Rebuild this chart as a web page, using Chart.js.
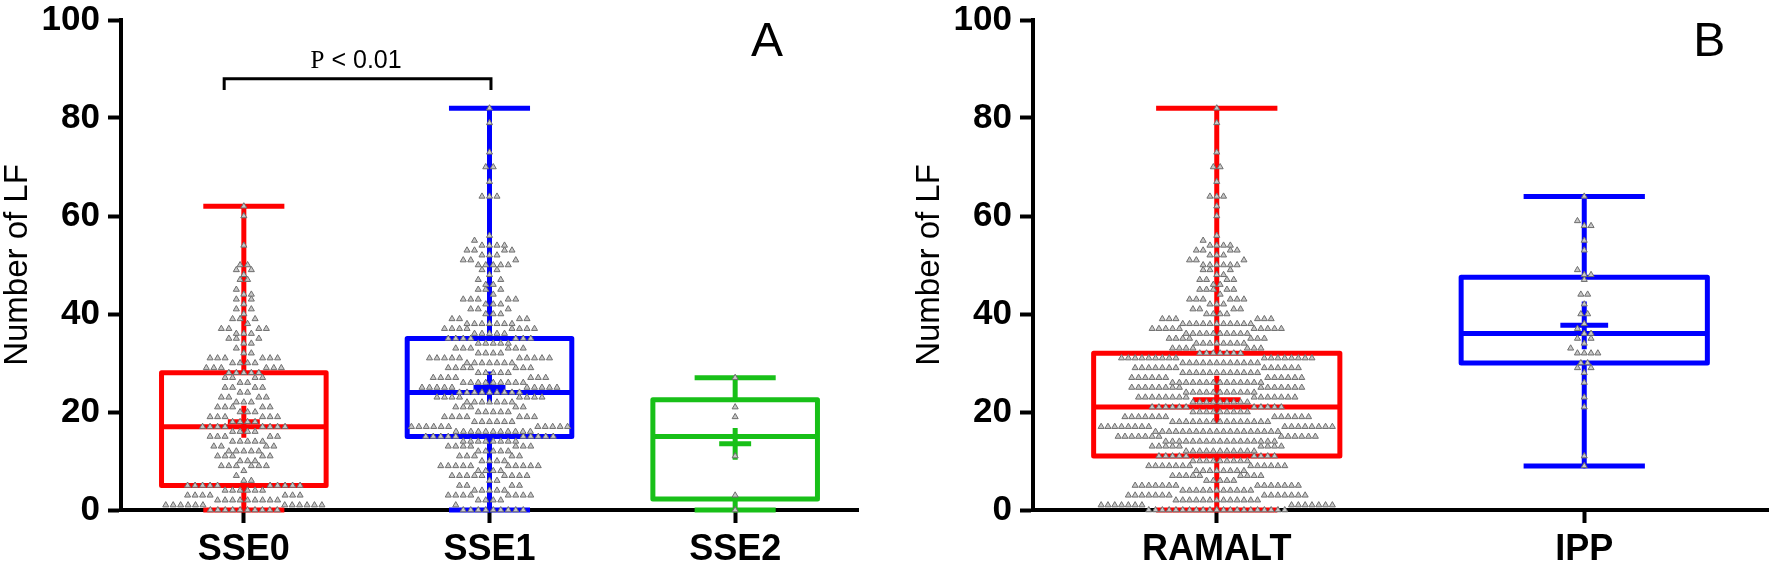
<!DOCTYPE html>
<html><head><meta charset="utf-8">
<script src="https://cdn.jsdelivr.net/npm/chart.js@4.4.1/dist/chart.umd.min.js"></script>
<style>
html,body{margin:0;padding:0;background:#fff;}
#wrap{position:relative;width:1776px;height:572px;overflow:hidden;background:#fff;}
canvas{position:absolute;top:0;}
#cA{left:0;width:880px;height:572px;}
#cB{left:912px;width:864px;height:572px;}
</style></head><body>
<div id="wrap"><canvas id="cA" width="880" height="572"></canvas><canvas id="cB" width="864" height="572"></canvas></div>
<script>
// ---------- Panel A data ----------
const categoriesA = ['SSE0', 'SSE1', 'SSE2'];
const minA  = [0, 0, 0];
const q1A   = [5, 15, 2.25];
const medA  = [17, 24, 15];
const q3A   = [28, 35, 22.5];
const maxA  = [62, 82, 27];
const meanA = [18, 25, 13.5];
// counts of patients per value (index = number of LF)
const countsSSE0 = [10,12,9,7,6,10,2,1,1,6, 3,5,5,4,5,5,4,8,4,6, 3,5,3,4,2,4,2,4,5,6,
  4,6,2,1,2,3,3,4,1,3, 1,2,1,2,2,1,0,2,1,2, 2,0,0,0,1,0,0,0,0,0, 1,0,1];
const countsSSE1 = [9,1,4,8,5,4,2,9,4,10, 4,5,5,7,8,10,11,11,6,7, 5,5,7,8,9,10,9,7,5,7,
  7,10,4,6,5,7,5,8,7,4, 3,3,3,5,1,3,2,2,1,2, 5,3,3,4,4,1,1,0,0,0, 0,0,0,0,3,0,0,1,0,0,
  2,0,0,1,0,0,0,0,0,1, 0,0,1];
const countsSSE2 = [1,0,0,1,0,0,0,0,0,0, 0,1,0,0,0,0,0,0,0,1, 0,1,0,0,0,0,0,1];

// ---------- Panel B data ----------
const categoriesB = ['RAMALT', 'IPP'];
const minB  = [0, 9];
const q1B   = [11, 30];
const medB  = [21, 36];
const q3B   = [32, 47.5];
const maxB  = [82, 64];
const meanB = [22.5, 37.7];
const countsRAMALT = [21,14,13,14,11,14,5,9,8,13, 9,9,11,9,17,13,19,16,15,13, 9,11,9,15,11,15,14,12,12,13,
  12,17,7,7,8,7,10,10,11,6, 4,4,3,6,1,5,2,4,2,3, 6,3,3,4,4,1,1,0,0,0, 1,0,1,0,3,0,0,1,0,0,
  2,0,0,1,0,0,0,0,0,1, 0,0,1];
const countsIPP = [0,0,0,0,0,0,0,0,0,1, 0,1,0,0,0,0,0,0,0,0, 0,1,0,1,0,0,1,0,1,2,
  2,0,4,1,1,2,2,1,1,0, 2,0,1,0,2,0,0,1,2,1, 0,0,0,1,0,1,0,0,2,1, 0,0,0,0,1];

const yTicks = [0, 20, 40, 60, 80, 100];
const yTitle = 'Number of LF';

const colorsA = ['#ff0000', '#0000ff', '#18c018'];
const colorsB = ['#ff0000', '#0000ff'];
const FONT = '"Liberation Sans", Arial, sans-serif';
Chart.defaults.font.family = FONT;

// GraphPad-like column scatter: bins of two values, smaller values in the centre
function buildSwarm(counts, idx, spacingPx, pxPerCat, maxHalfPx) {
  const pts = [];
  for (let b = 0; b < counts.length; b += 2) {
    const vals = [];
    for (let v = b; v < Math.min(b + 2, counts.length); v++)
      for (let k = 0; k < counts[v]; k++) vals.push(v);
    const n = vals.length;
    if (!n) continue;
    let sp = spacingPx;
    if (n > 1 && (n - 1) * sp / 2 > maxHalfPx) sp = 2 * maxHalfPx / (n - 1);
    vals.forEach((v, i) => {
      let slot;
      if (n % 2 === 1) slot = i === 0 ? 0 : (i % 2 === 1 ? (i + 1) / 2 : -i / 2);
      else slot = (i % 2 === 0 ? 1 : -1) * (Math.floor(i / 2) + 0.5);
      pts.push({ x: idx + slot * sp / pxPerCat, y: v });
    });
  }
  return pts;
}

function lineDs(data, color, width, join) {
  return { data, showLine: true, pointRadius: 0, borderColor: color, borderWidth: width,
           borderJoinStyle: join || 'round', borderCapStyle: 'butt', fill: false, tension: 0,
           clip: false, order: 2 };
}

function boxDatasets(n, mins, q1s, meds, q3s, maxs, colors) {
  const hw = 0.335, cw = 0.165, ds = [];
  for (let i = 0; i < n; i++) {
    const c = colors[i];
    ds.push(lineDs([{x:i,y:q1s[i]},{x:i+hw,y:q1s[i]},{x:i+hw,y:q3s[i]},{x:i-hw,y:q3s[i]},{x:i-hw,y:q1s[i]},{x:i,y:q1s[i]}], c, 5));
    ds.push(lineDs([{x:i-hw,y:meds[i]},{x:i+hw,y:meds[i]}], c, 5));
    ds.push(lineDs([{x:i,y:q3s[i]},{x:i,y:maxs[i]}], c, 5));
    ds.push(lineDs([{x:i,y:q1s[i]},{x:i,y:mins[i]}], c, 5));
    ds.push(lineDs([{x:i-cw,y:maxs[i]},{x:i+cw,y:maxs[i]}], c, 5));
    ds.push(lineDs([{x:i-cw,y:mins[i]},{x:i+cw,y:mins[i]}], c, 5));
  }
  return ds;
}

function meanDatasets(means, colors) {
  return means.map((m, i) => ({
    data: [{ x: i, y: m }], showLine: false, pointStyle: 'cross',
    pointRadius: (ctx) => { const s = ctx.chart.scales.x; return s ? Math.abs(s.getPixelForValue(1) - s.getPixelForValue(0)) * 0.065 : 15; },
    pointBorderColor: colors[i], pointBorderWidth: 5, pointBackgroundColor: colors[i],
    clip: false, order: 1
  }));
}

function swarmDatasets(n) {
  const ds = [];
  for (let i = 0; i < n; i++) ds.push({ data: [], showLine: false, pointStyle: 'triangle',
    pointRadius: 3.5, pointBackgroundColor: '#c8c8c8', pointBorderColor: '#6e6e6e',
    pointBorderWidth: 1, clip: false, order: 0 });
  return ds;
}

const annotPlugin = {
  id: 'annot',
  afterDraw(chart, args, opts) {
    const { ctx, scales: { x, y } } = chart;
    (opts.items || []).forEach(it => {
      ctx.save();
      ctx.fillStyle = '#000';
      ctx.textBaseline = 'middle';
      ctx.textAlign = 'left';
      let total = 0;
      it.parts.forEach(p => { ctx.font = p.font; p.w = ctx.measureText(p.text).width; total += p.w; });
      let px = x.getPixelForValue(it.x) - total / 2;
      const py = y.getPixelForValue(it.y);
      it.parts.forEach(p => { ctx.font = p.font; ctx.fillText(p.text, px, py); px += p.w; });
      ctx.restore();
    });
  }
};

function zeroPad(s) { s.paddingTop = 0; s.paddingBottom = 0; s.paddingLeft = 0; s.paddingRight = 0; }

function makeConfig(cats, datasets, padRight, items) {
  return {
    type: 'scatter',
    data: { datasets },
    plugins: [annotPlugin],
    options: {
      responsive: false, animation: false, events: [],
      layout: { autoPadding: false, padding: { left: 0, right: padRight, top: 20, bottom: 0 } },
      plugins: { legend: { display: false }, tooltip: { enabled: false }, annot: { items } },
      scales: {
        x: {
          type: 'linear', min: -0.5, max: cats.length - 0.5,
          afterBuildTicks: (s) => { s.ticks = cats.map((c, i) => ({ value: i })); },
          afterFit: (s) => { s.height = 62; zeroPad(s); },
          ticks: { callback: (v) => cats[v], color: '#000', autoSkip: false, maxRotation: 0,
                   font: { family: FONT, size: 36, weight: 'bold', lineHeight: 1.2 }, padding: 5 },
          grid: { drawOnChartArea: false, drawTicks: true, tickLength: 13, tickWidth: 4, tickColor: '#000', offset: false },
          border: { display: true, color: '#000', width: 4 }
        },
        y: {
          type: 'linear', min: 0, max: 100,
          afterBuildTicks: (s) => { s.ticks = yTicks.map(v => ({ value: v })); },
          afterFit: (s) => { s.width = 121; zeroPad(s); },
          ticks: { color: '#000', font: { family: FONT, size: 35, weight: 'bold', lineHeight: 1 }, padding: 8 },
          grid: { drawOnChartArea: false, drawTicks: true, tickLength: 13, tickWidth: 4, tickColor: '#000' },
          border: { display: true, color: '#000', width: 4 },
          title: { display: true, text: yTitle, color: '#000',
                   font: { family: FONT, size: 33, weight: 'normal', lineHeight: 1 }, padding: { top: 1, bottom: 0 } }
        }
      }
    }
  };
}

// ---- Panel A ----
const dsA = [].concat(
  swarmDatasets(3),
  meanDatasets(meanA, colorsA),
  boxDatasets(3, minA, q1A, medA, q3A, maxA, colorsA),
  [lineDs([{x:-0.08,y:85.7},{x:-0.08,y:88},{x:1.006,y:88},{x:1.006,y:85.7}], '#000', 3, 'miter')]
);
const chartA = new Chart(document.getElementById('cA'), makeConfig(categoriesA, dsA, 22, [
  { x: 2.13, y: 95.3, parts: [{ text: 'A', font: '48px ' + FONT }] },
  { x: 0.457, y: 91.6, parts: [{ text: 'P', font: '25px "Liberation Serif", serif' }, { text: ' < 0.01', font: '25px ' + FONT }] }
]));
{
  const s = chartA.scales.x;
  const px = s.getPixelForValue(1) - s.getPixelForValue(0);
  [countsSSE0, countsSSE1, countsSSE2].forEach((c, i) => {
    chartA.data.datasets[i].data = buildSwarm(c, i, 7.5, px, 0.33 * px - 3);
  });
  chartA.update('none');
}

// ---- Panel B ----
const dsB = [].concat(
  swarmDatasets(2),
  meanDatasets(meanB, colorsB),
  boxDatasets(2, minB, q1B, medB, q3B, maxB, colorsB)
);
const chartB = new Chart(document.getElementById('cB'), makeConfig(categoriesB, dsB, 8, [
  { x: 1.34, y: 95.3, parts: [{ text: 'B', font: '48px ' + FONT }] }
]));
{
  const s = chartB.scales.x;
  const px = s.getPixelForValue(1) - s.getPixelForValue(0);
  [countsRAMALT, countsIPP].forEach((c, i) => {
    chartB.data.datasets[i].data = buildSwarm(c, i, 6.8, px, 0.33 * px - 3);
  });
  chartB.update('none');
}
</script>
</body></html>
